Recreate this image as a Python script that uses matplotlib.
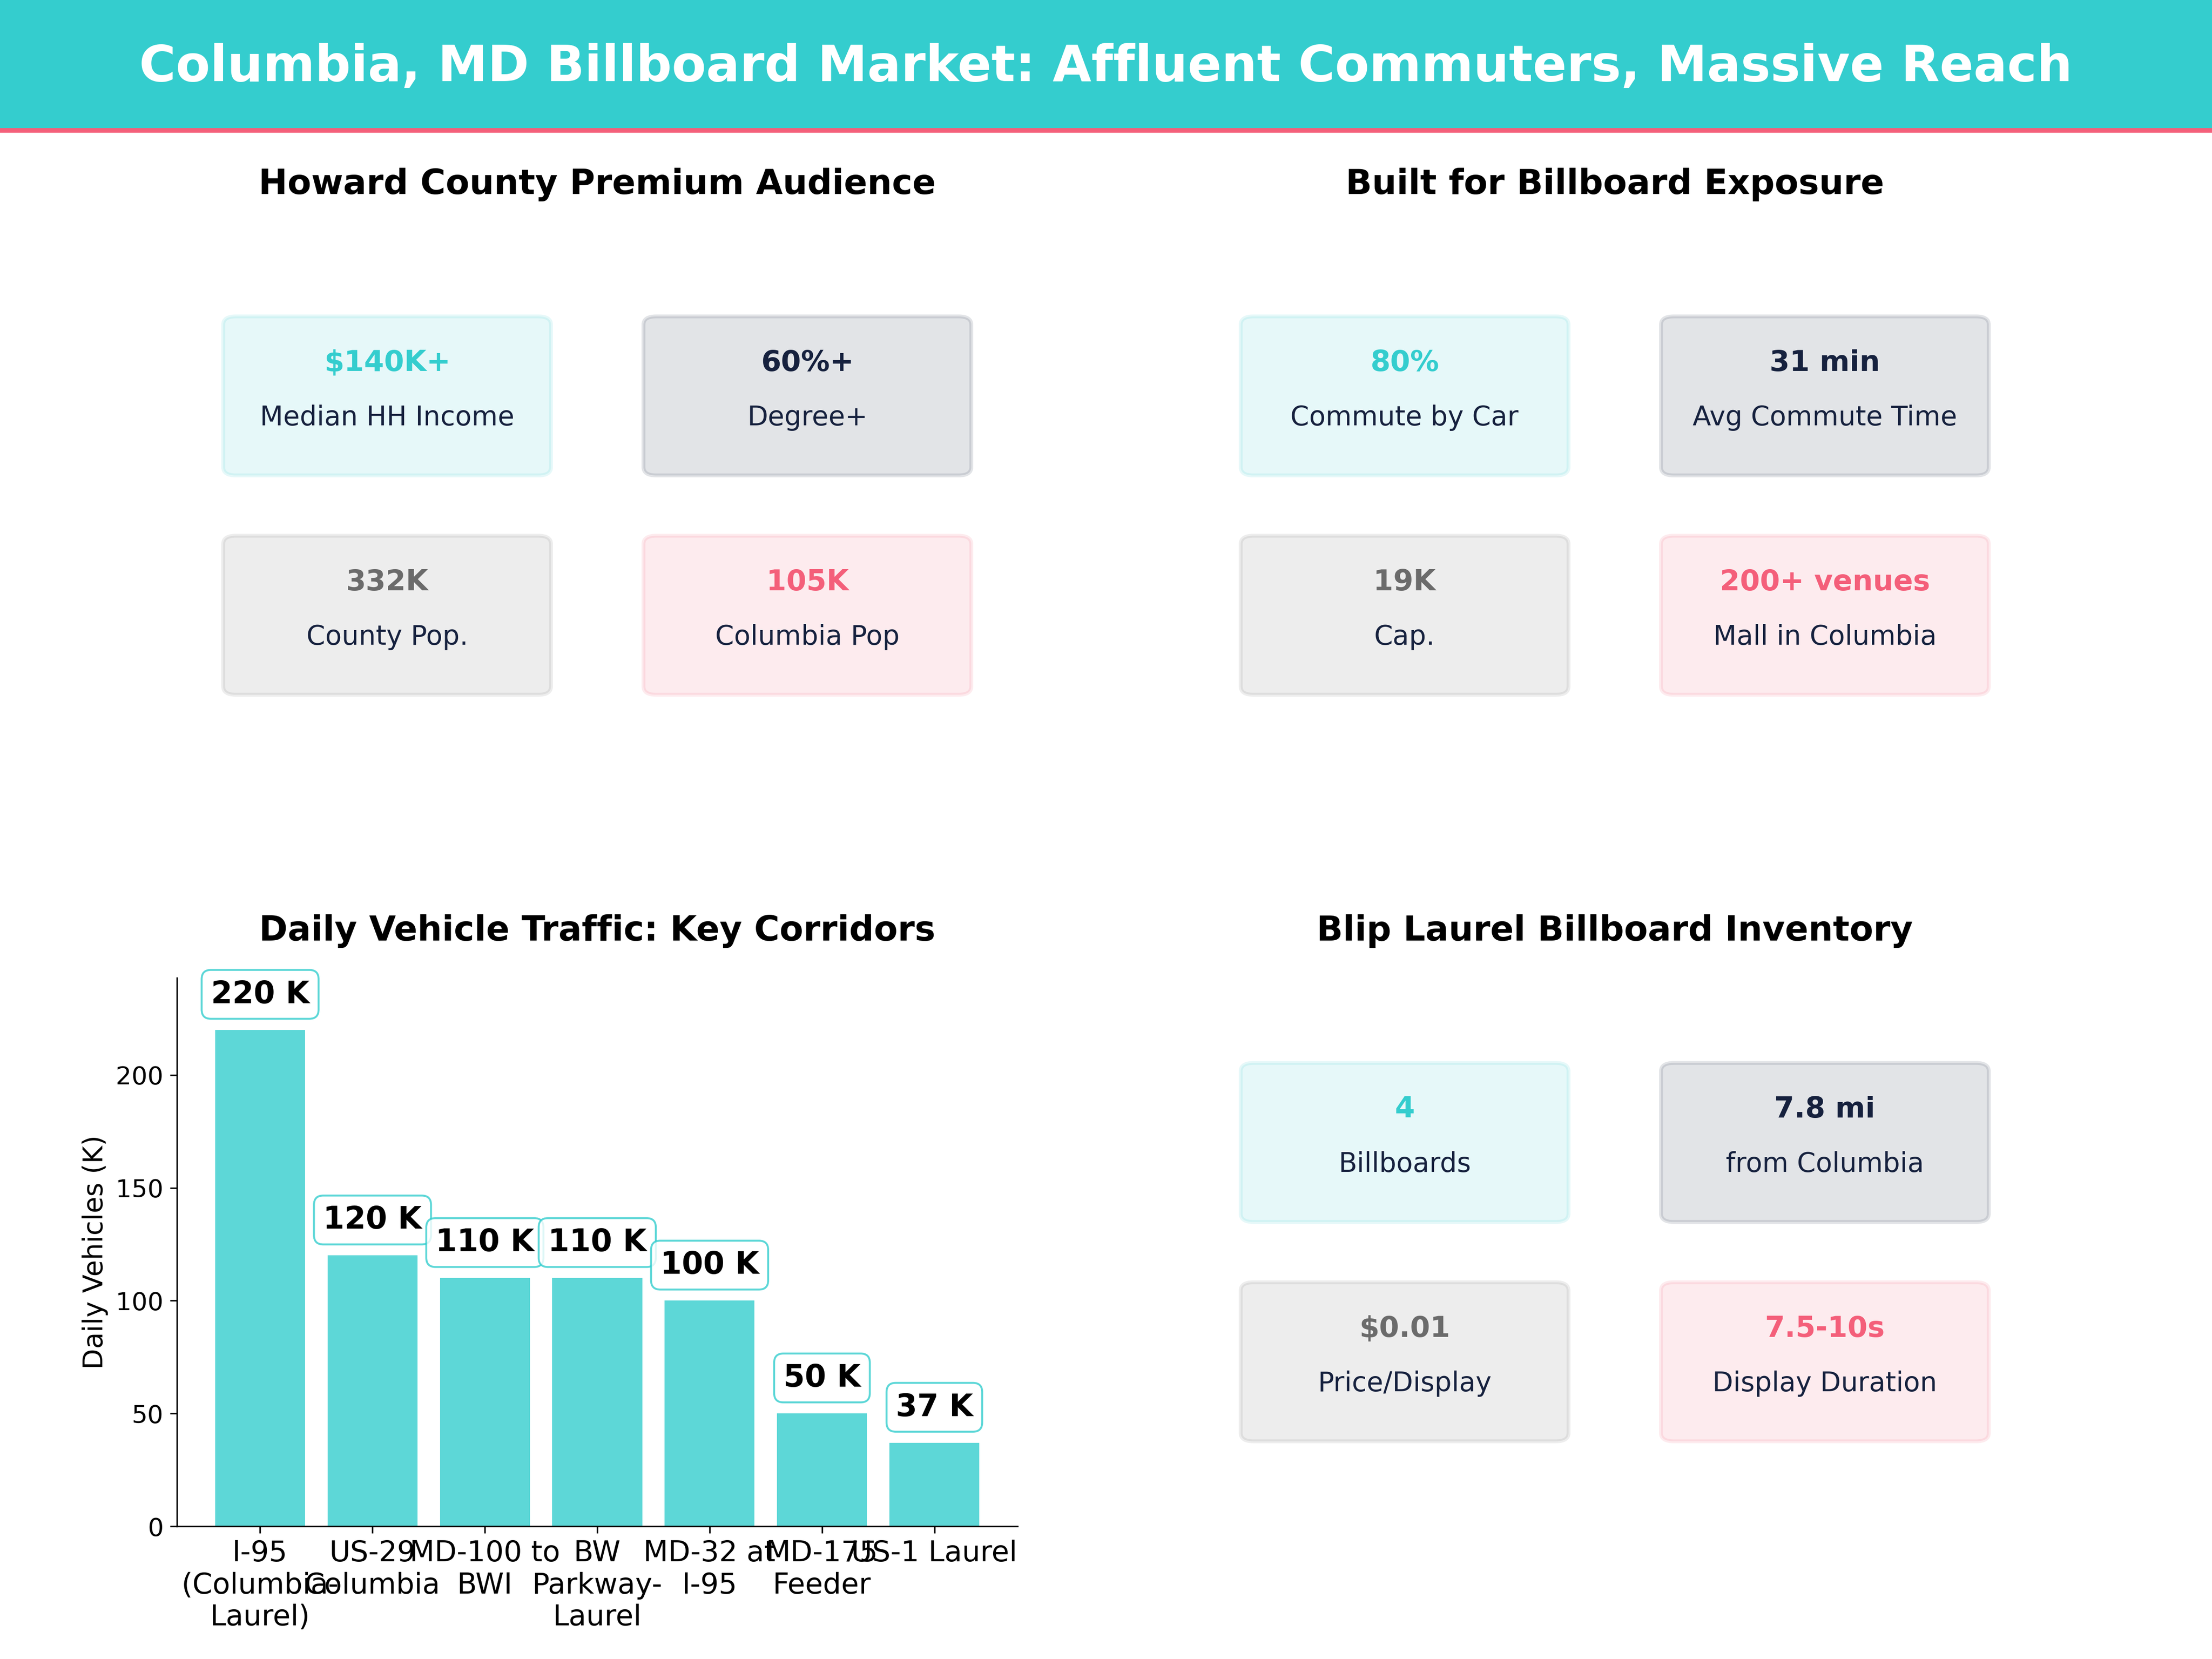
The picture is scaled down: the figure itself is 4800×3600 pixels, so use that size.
import matplotlib
matplotlib.use('Agg')
import matplotlib.pyplot as plt
from matplotlib.patches import FancyBboxPatch, Rectangle
from matplotlib.lines import Line2D

TEAL = '#34CDCE'
NAVY = '#16213E'
GRAY = '#6B6B6B'
RED = '#F45F7A'

# Traffic data
corridors = ['I-95\n(Columbia-\nLaurel)', 'US-29\nColumbia', 'MD-100 to\nBWI',
             'BW\nParkway-\nLaurel', 'MD-32 at\nI-95', 'MD-175\nFeeder', 'US-1 Laurel']
vehicles = [220, 120, 110, 110, 100, 50, 37]

# Card contents
audience_values = ['$140K+', '60%+', '332K', '105K']
audience_labels = ['Median HH Income', 'Degree+', 'County Pop.', 'Columbia Pop']
exposure_values = ['80%', '31 min', '19K', '200+ venues']
exposure_labels = ['Commute by Car', 'Avg Commute Time', 'Cap.', 'Mall in Columbia']
inventory_values = ['4', '7.8 mi', '$0.01', '7.5-10s']
inventory_labels = ['Billboards', 'from Columbia', 'Price/Display', 'Display Duration']
card_colors = [TEAL, NAVY, GRAY, RED]


def draw_cards(ax, title, values, labels):
    ax.set_xlim(0, 1)
    ax.set_ylim(0, 1)
    ax.axis('off')
    ax.set_title(title, fontsize=18, fontweight='bold', pad=19.5)
    spots = [(0.25, 0.7), (0.75, 0.7), (0.25, 0.3), (0.75, 0.3)]
    for (cx, cy), val, lab, col in zip(spots, values, labels, card_colors):
        card = FancyBboxPatch((cx - 0.18, cy - 0.13), 0.36, 0.26,
                              boxstyle='round,pad=0.015', facecolor=col,
                              edgecolor=col, alpha=0.12, linewidth=2)
        ax.add_patch(card)
        ax.text(cx, cy + 0.06, val, ha='center', va='center', fontsize=15,
                fontweight='bold', color=col)
        ax.text(cx, cy - 0.04, lab, ha='center', va='center', fontsize=14, color=NAVY)


fig = plt.figure(figsize=(16, 12), dpi=300, facecolor='white')

# Header band
fig.add_artist(Rectangle((0, 0.9215), 1, 0.0785, transform=fig.transFigure,
                         facecolor=TEAL, edgecolor='none'))
fig.add_artist(Line2D([0, 1], [0.9215, 0.9215], transform=fig.transFigure,
                      color=RED, linewidth=2.4))
fig.text(0.5, 0.9595, 'Columbia, MD Billboard Market: Affluent Commuters, Massive Reach',
         ha='center', va='center', fontsize=26, fontweight='bold', color='white')

ax1 = fig.add_axes([0.08, 0.53, 0.38, 0.3305])
ax2 = fig.add_axes([0.54, 0.53, 0.38, 0.3305])
ax3 = fig.add_axes([0.08, 0.08, 0.38, 0.3305])
ax4 = fig.add_axes([0.54, 0.08, 0.38, 0.3305])

draw_cards(ax1, 'Howard County Premium Audience', audience_values, audience_labels)
draw_cards(ax2, 'Built for Billboard Exposure', exposure_values, exposure_labels)
draw_cards(ax4, 'Blip Laurel Billboard Inventory', inventory_values, inventory_labels)

# Bar chart
ax3.bar(range(len(vehicles)), vehicles, color=TEAL, alpha=0.8, width=0.8)
ax3.set_xticks(range(len(corridors)))
ax3.set_xticklabels(corridors, fontsize=15)
ax3.tick_params(axis='y', labelsize=13)
ax3.set_ylabel('Daily Vehicles (K)', fontsize=14)
ax3.set_ylim(0, 243)
ax3.spines['top'].set_visible(False)
ax3.spines['right'].set_visible(False)
ax3.set_title('Daily Vehicle Traffic: Key Corridors', fontsize=18, fontweight='bold', pad=19.5)
for i, v in enumerate(vehicles):
    ax3.text(i, v + 9, f'{v} K', ha='center', va='bottom', fontsize=16, fontweight='bold',
             bbox=dict(boxstyle='round,pad=0.3', facecolor='white', edgecolor=TEAL, alpha=0.8))

fig.savefig('out.png', dpi=300)
